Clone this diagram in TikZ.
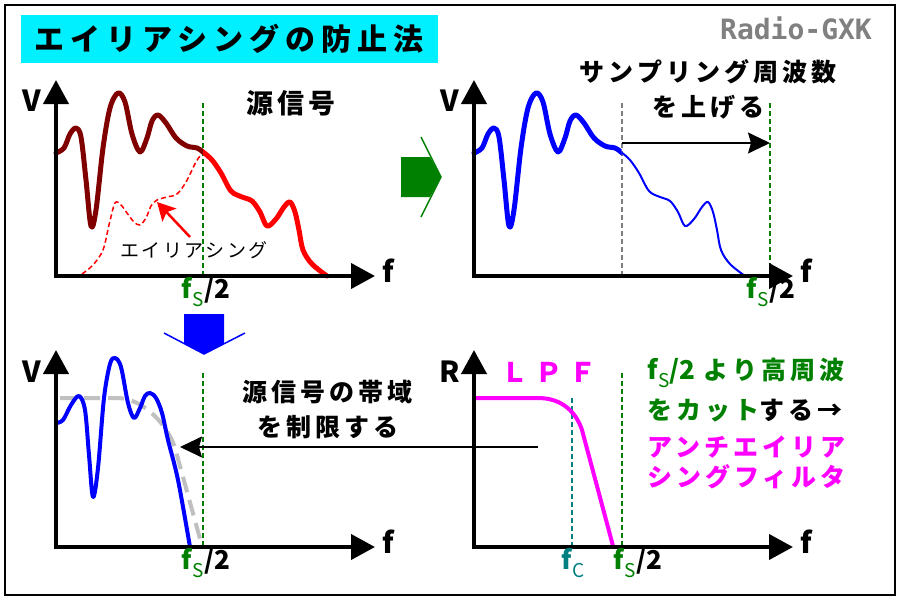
\documentclass[tikz,border=0pt]{standalone}
\usepackage{fontspec}
\usetikzlibrary{arrows.meta}
\newfontfamily\jp{Noto Sans CJK JP}
\newfontfamily\jpw{Noto Sans CJK JP}[LetterSpace=20]
\newfontfamily\jpm{Noto Sans CJK JP}[LetterSpace=16]
\newfontfamily\jps{Noto Sans CJK JP}[LetterSpace=13]
\newfontfamily\monob{DejaVu Sans Mono}
\definecolor{dred}{RGB}{128,0,0}
\definecolor{grn}{RGB}{0,128,0}
\definecolor{mag}{RGB}{255,0,255}
\definecolor{tl}{RGB}{0,128,128}
\definecolor{cy}{RGB}{0,240,255}
\definecolor{lgr}{RGB}{192,192,192}
\definecolor{mgr}{RGB}{128,128,128}
\newcommand\fsub[2]{#1\kern0.5pt\raisebox{-8pt}{\fontsize{19pt}{19pt}\selectfont\mdseries #2}}
\newcommand\fslab{{\color{grn}\fsub{f}{S}}\kern0.5pt/2}
\tikzset{
  axis/.style={line width=4pt, line join=miter, {Triangle[length=24pt,width=25pt]}-{Triangle[length=24pt,width=25pt]}},
  axl/.style={inner sep=0pt, font=\jp\bfseries\fontsize{29pt}{29pt}\selectfont},
  vdash/.style={line width=1.6pt, dash pattern=on 5pt off 3pt},
  lab/.style={inner sep=0pt, font=\jp\bfseries\fontsize{26pt}{26pt}\selectfont},
  jpt/.style={inner sep=0pt, font=\jpm\bfseries\fontsize{25pt}{25pt}\selectfont},
  arr/.style={line width=1.6pt, -{Stealth[length=22pt,width=21pt,inset=3pt]}},
  thick5/.style={line width=5pt, line cap=round, line join=round},
}
\begin{document}
\begin{tikzpicture}[x=1pt,y=-1pt]
\useasboundingbox (0,0) rectangle (900,600);
\fill[white] (0,0) rectangle (900,600);
\draw[line width=2.5pt] (5,5) rectangle (895,595);
% title
\node[fill=cy, minimum width=417pt, minimum height=48pt, inner sep=0pt,
  font=\jpw\bfseries\fontsize{30pt}{30pt}\selectfont] (title) at (229,39) {エイリアシングの防止法};
\node[inner sep=0pt, font=\monob\bfseries\fontsize{28pt}{28pt}\selectfont, text=mgr] (logo) at (796,28) {Radio-GXK};

%%%%% Panel 1
\draw[grn, vdash] (203,103) -- (203,276);
\draw[red, line width=1.5pt, dash pattern=on 5pt off 3pt] plot[smooth, tension=0.55] coordinates {(82,274) (93,265) (103,250) (109,225) (115,203) (121,205) (127,213) (134,222) (140,225) (146,218) (151,206) (157,200) (167,197) (177,194) (186,182) (196,162) (203,152)};
\begin{scope}
\clip (40,60) rectangle (203,290);
\draw[dred, thick5] plot[smooth, tension=0.55] coordinates {(56,153) (64,148) (70,134) (76,128) (81,137) (86,180) (91,226) (96,210) (103,148) (110,108) (118,93) (125,102) (132,134) (140,152) (147,138) (152,121) (158,115) (166,123) (176,138) (187,146) (197,148) (203,152) (212,160) (221,173) (231,191) (242,197) (252,201) (260,212) (267,226) (276,219) (284,207) (290,202) (295,212) (299,230) (303,250) (312,264) (327,276)};
\end{scope}
\begin{scope}
\clip (203,60) rectangle (340,290);
\draw[red, thick5] plot[smooth, tension=0.55] coordinates {(56,153) (64,148) (70,134) (76,128) (81,137) (86,180) (91,226) (96,210) (103,148) (110,108) (118,93) (125,102) (132,134) (140,152) (147,138) (152,121) (158,115) (166,123) (176,138) (187,146) (197,148) (203,152) (212,160) (221,173) (231,191) (242,197) (252,201) (260,212) (267,226) (276,219) (284,207) (290,202) (295,212) (299,230) (303,250) (312,264) (327,276)};
\end{scope}
\coordinate (ra1) at (190,237);
\coordinate (ra2) at (157,202);
\draw[red, line width=2.5pt, -{Stealth[length=18pt,width=19pt,inset=4pt]}] (ra1) -- (ra2);
\node[inner sep=0pt, font=\jps\fontsize{19pt}{19pt}\selectfont] (alias) at (194,250) {エイリアシング};
\node[inner sep=0pt, font=\jpm\bfseries\fontsize{27pt}{27pt}\selectfont] (src) at (291,103) {源信号};
\coordinate (o1) at (56,276); \coordinate (y1) at (56,80); \coordinate (x1) at (375,276);
\draw[axis] (y1) -- (o1) -- (x1);
\node[axl] (V1) at (32,101) {V};
\node[axl] (f1) at (388,271) {f};
\node[lab] (fs1) at (206,292) {\fslab};

% green block arrow
\fill[grn] (401,157) -- (430,157) -- (441,177) -- (430,197) -- (401,197) -- cycle;
\draw[grn, line width=1.5pt] (421,137) -- (441,177) -- (421,217);

%%%%% Panel 2
\draw[mgr, vdash] (622,103) -- (622,276);
\draw[grn, vdash] (770,103) -- (770,276);
\begin{scope}[xshift=418pt]
\begin{scope}
\clip (40,60) rectangle (203.5,290);
\draw[blue, thick5] plot[smooth, tension=0.55] coordinates {(56,153) (64,148) (70,134) (76,128) (81,137) (86,180) (91,226) (96,210) (103,148) (110,108) (118,93) (125,102) (132,134) (140,152) (147,138) (152,121) (158,115) (166,123) (176,138) (187,146) (197,148) (203,152) (212,160) (221,173) (231,191) (242,197) (252,201) (260,212) (267,226) (276,219) (284,207) (290,202) (295,212) (299,230) (303,250) (312,264) (327,276)};
\end{scope}
\begin{scope}
\clip (203.5,60) rectangle (340,290);
\draw[blue, line width=2pt, line cap=round] plot[smooth, tension=0.55] coordinates {(56,153) (64,148) (70,134) (76,128) (81,137) (86,180) (91,226) (96,210) (103,148) (110,108) (118,93) (125,102) (132,134) (140,152) (147,138) (152,121) (158,115) (166,123) (176,138) (187,146) (197,148) (203,152) (212,160) (221,173) (231,191) (242,197) (252,201) (260,212) (267,226) (276,219) (284,207) (290,202) (295,212) (299,230) (303,250) (312,264) (327,276)};
\end{scope}
\end{scope}
\coordinate (a2s) at (622,143); \coordinate (a2e) at (770,143);
\draw[arr] (a2s) -- (a2e);
\node[jpt] (samp1) at (708,72) {サンプリング周波数};
\node[jpt] (samp2) at (708,107) {を上げる};
\coordinate (o2) at (474,276); \coordinate (y2) at (474,80); \coordinate (x2) at (793,276);
\draw[axis] (y2) -- (o2) -- (x2);
\node[axl] (V2) at (450,101) {V};
\node[axl] (f2) at (806,271) {f};
\node[lab] (fs2) at (771,292) {\fslab};

% blue block arrow
\fill[blue] (184,314) -- (224,314) -- (224,343.5) -- (204,354) -- (184,343.5) -- cycle;
\draw[blue, line width=1.5pt] (164,333) -- (204,354) -- (245,333);

%%%%% Panel 3
\draw[grn, vdash] (203,373) -- (203,547);
\draw[lgr, line width=4pt, dash pattern=on 16pt off 8pt] (60,398) -- (117,398) .. controls (145,398) and (169,428) .. (175,448) -- (202,546);
\draw[blue, line width=4pt, line join=round] plot[smooth, tension=0.55] coordinates {(56,423) (63,420) (71,405) (79,396) (85,410) (89,455) (93,497) (98,468) (104,398) (110,364) (115,358) (121,367) (128,403) (134,418) (140,408) (145,396) (150,393) (156,398) (162,413) (168,440) (178,480) (190,547)};
\node[jpt] (band1) at (327,392) {源信号の帯域};
\node[jpt] (band2) at (328,427) {を制限する};
\coordinate (o3) at (56,547); \coordinate (y3) at (56,350); \coordinate (x3) at (375,547);
\draw[axis] (y3) -- (o3) -- (x3);
\node[axl] (V3) at (32,372) {V};
\node[axl] (f3) at (388,542) {f};
\node[lab] (fs3) at (206,563) {\fslab};

%%%%% Panel 4
\draw[tl, vdash] (572,398) -- (572,547);
\draw[grn, vdash] (622,373) -- (622,547);
\draw[mag, line width=4pt] (474,398) -- (538,398) .. controls (562,398) and (576,412) .. (582,430) -- (613,546);
\coordinate (a3s) at (538,447); \coordinate (a3e) at (180,447);
\draw[arr] (a3s) -- (a3e);
\node[inner sep=0pt, font=\jp\bfseries\fontsize{27pt}{27pt}\selectfont, text=mag] (lpf) at (549,372) {Ｌ\hspace{7pt}Ｐ\hspace{7pt}Ｆ};
\coordinate (o4) at (474,547); \coordinate (y4) at (474,350); \coordinate (x4) at (793,547);
\draw[axis] (y4) -- (o4) -- (x4);
\node[axl] (R4) at (450,372) {R};
\node[axl] (f4) at (806,542) {f};
\node[lab] (fc4) at (573,563) {\color{tl}\fsub{f}{C}};
\node[lab] (fs4) at (638,563) {\fslab};
\node[lab, anchor=west, text=grn] (r1) at (647,373) {\fsub{f}{S}\kern0.5pt/2\hspace{8pt}{\jpm\fontsize{25pt}{25pt}\selectfont より高周波}};
\node[jpt, anchor=west] (r2) at (647,411) {\textcolor{grn}{をカット}する→};
\node[jpt, anchor=west, text=mag] (r3) at (647,447) {アンチエイリア};
\node[jpt, anchor=west, text=mag] (r4) at (647,477) {シングフィルタ};
\end{tikzpicture}
\end{document}
